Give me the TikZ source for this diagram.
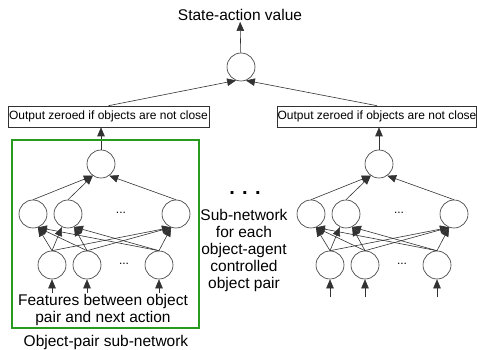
\documentclass[tikz,border=0pt]{standalone}
\usepackage{fontspec}
\setmainfont{Liberation Sans}
\usetikzlibrary{arrows.meta}
\definecolor{framegreen}{RGB}{40,155,30}
\definecolor{linegray}{RGB}{50,50,50}
\tikzset{
  neuron/.style={circle,draw=linegray,line width=0.6pt,minimum size=28pt,inner sep=0pt},
  gatebox/.style={draw=linegray,line width=0.6pt,minimum height=21pt,inner sep=0pt,font=\fontsize{12}{14}\selectfont},
  conn/.style={draw=linegray,line width=0.6pt,-{Triangle[length=9pt,width=7.5pt]}},
  bigtext/.style={font=\fontsize{15.5}{17}\selectfont,align=center,inner sep=1pt},
  dotstext/.style={font=\fontsize{12}{14}\selectfont,inner sep=0pt}
}
\begin{document}
\begin{tikzpicture}[x=1pt,y=-1pt]
\useasboundingbox (0,0) rectangle (477,350);
% title and top neuron
\node[bigtext] (title) at (240,15) {State-action value};
\node[neuron] (top) at (241,67) {};
\draw[conn] (top) -- (title);
% gate boxes
\node[gatebox,minimum width=201pt] (Lbox) at (108.5,116.5) {Output zeroed if objects are not close};
\node[gatebox,minimum width=198pt] (Rbox) at (377,116.5) {Output zeroed if objects are not close};
\draw[conn] (Lbox.north) -- (top.250);
\draw[conn] (Rbox.north) -- (top.290);
% sub-networks
\foreach \p/\dx/\fy in {L/0/293,R/278/297}{
  \node[neuron] (\p-o) at (101+\dx,164) {};
  \node[neuron] (\p-h1) at (33+\dx,214) {};
  \node[neuron] (\p-h2) at (68+\dx,214) {};
  \node[neuron] (\p-h3) at (176+\dx,214) {};
  \node[dotstext] (\p-hd) at (121+\dx,213) {...};
  \node[neuron] (\p-i1) at (52+\dx,265) {};
  \node[neuron] (\p-i2) at (87+\dx,265) {};
  \node[neuron] (\p-i3) at (159+\dx,265) {};
  \node[dotstext] (\p-id) at (124+\dx,264) {...};
  \draw[conn] (\p-o.north) -- (\p-o.north |- \p box.south);
  \draw[conn] (\p-h1.north) -- (\p-o.235);
  \draw[conn] (\p-h2.north) -- (\p-o.235);
  \draw[conn] (\p-h3.north) -- (\p-o.305);
  \foreach \i in {1,2,3}{
    \draw[conn] (\p-i\i.north) -- (\p-h1.-70);
    \draw[conn] (\p-i\i.north) -- (\p-h3.-110);
    \coordinate (\p-f\i) at (\p-i\i.south |- 0,\fy);
    \draw[conn] (\p-f\i) -- (\p-i\i.south);
  }
  \draw[conn] (\p-i1.north) -- (\p-h2.-115);
  \draw[conn] (\p-i2.north) -- (\p-h2.-65);
  \draw[conn] (\p-i3.north) -- (\p-h2.-65);
}
% texts
\node[bigtext] (feat) at (103,310) {Features between object\\pair and next action};
\node[bigtext,font=\fontsize{20}{22}\selectfont\bfseries] (bigdots) at (245,193) {. . .};
\node[bigtext] (subnet) at (244,250) {Sub-network\\for each\\object-agent\\controlled\\object pair};
% green frame
\node[draw=framegreen,line width=2.8pt,minimum width=187pt,minimum height=188pt,inner sep=0pt] (frame) at (105.5,234) {};
\node[bigtext] (framelabel) at (106,342) {Object-pair sub-network};
\end{tikzpicture}
\end{document}
